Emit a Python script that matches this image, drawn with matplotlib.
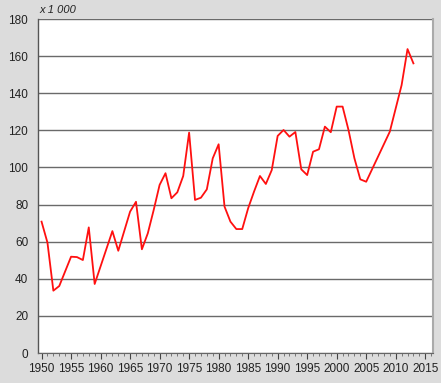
import matplotlib.pyplot as plt
from matplotlib.ticker import MultipleLocator
from matplotlib.patches import Rectangle

plt.rcParams['font.family'] = ['Liberation Sans', 'DejaVu Sans']

# values in thousands
years = [1950, 1951, 1952, 1953, 1955, 1956, 1957, 1958, 1959, 1962, 1963,
         1965, 1966, 1967, 1968, 1969, 1970, 1971, 1972, 1973, 1974, 1975,
         1976, 1977, 1978, 1979, 1980, 1981, 1982, 1983, 1984, 1985, 1986,
         1987, 1988, 1989, 1990, 1991, 1992, 1993, 1994, 1995, 1996, 1997,
         1998, 1999, 2000, 2001, 2002, 2003, 2004, 2005, 2009, 2011, 2012,
         2013]
values = [70.8, 59.5, 33.6, 36.1, 51.9, 51.7, 50.1, 67.7, 37.2, 65.7, 55.1,
          76.2, 81.5, 55.9, 64.5, 77.1, 90.6, 96.9, 83.4, 86.6, 95.4, 118.8,
          82.5, 83.7, 88.2, 104.9, 112.5, 78.9, 70.8, 66.8, 66.8, 78.0, 87.0,
          95.4, 91.1, 98.6, 117.0, 120.2, 116.6, 119.1, 99.0, 95.9, 108.5,
          109.8, 122.0, 119.0, 132.8, 132.8, 120.2, 105.0, 93.6, 92.3, 119.3,
          144.4, 163.8, 156.1]

bg = '#dcdcdc'

fig = plt.figure(figsize=(4.44, 3.85), dpi=100)
fig.patch.set_facecolor('white')
fig.patches.append(Rectangle((0.0, 0.006), 0.994, 0.994, transform=fig.transFigure,
                             facecolor=bg, edgecolor='none', zorder=-10))

ax = fig.add_axes([0.0856, 0.0831, 0.8894, 0.8675])
ax.set_facecolor('white')

ax.plot(years, values, color='#ff1010', lw=1.3, zorder=3)

ax.set_ylim(0, 180)
ax.set_xlim(1949.4, 2016.3)
ax.set_yticks(range(0, 181, 20))
ax.xaxis.set_major_locator(MultipleLocator(5))
ax.xaxis.set_minor_locator(MultipleLocator(1))
ax.set_xticks(range(1950, 2016, 5))

ax.grid(axis='y', color='#6a6a6a', lw=1.0, zorder=1)
ax.tick_params(axis='y', length=0, pad=7, labelsize=8.5, colors='#222222')
ax.tick_params(axis='x', which='major', length=4, width=0.8, direction='out',
               pad=3, labelsize=8.5, colors='#444444', labelcolor='#222222')
ax.tick_params(axis='x', which='minor', length=2.5, width=0.6, direction='out',
               colors='#666666')

ax.spines['top'].set_visible(False)
ax.spines['left'].set_color('#555555')
ax.spines['left'].set_linewidth(1.0)
ax.spines['right'].set_color('#aaaaaa')
ax.spines['right'].set_linewidth(1.5)
ax.spines['bottom'].set_color('#666666')
ax.spines['bottom'].set_linewidth(0.8)

fig.text(0.088, 0.962, 'x 1 000', fontsize=8, style='italic', color='#222222',
         ha='left', va='bottom')

fig.savefig('out.png', dpi=100, facecolor=fig.get_facecolor())
